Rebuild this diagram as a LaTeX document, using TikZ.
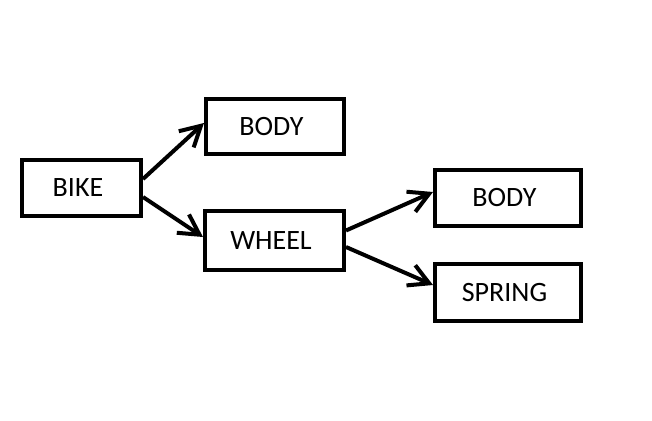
\documentclass[tikz,border=0pt]{standalone}
\usepackage{fontspec}
\setmainfont{Carlito}
\usetikzlibrary{arrows.meta}
\tikzset{
	part/.style={draw, line width=4pt, inner sep=0pt, font=\fontsize{28}{32}\selectfont, execute at end node={\kern7pt}},
	link/.style={line width=4pt, -{Straight Barb[length=20pt, width=22pt, line width=4pt]}}
}
\begin{document}
\begin{tikzpicture}[x=1pt, y=-1pt]
		\useasboundingbox (0, 0) rectangle (652, 420);
		\node[part, minimum width=119pt, minimum height=56pt] (bike) at (81.5, 188) {BIKE};
		\node[part, minimum width=138pt, minimum height=55pt] (body) at (275, 126.5) {BODY};
		\node[part, minimum width=139pt, minimum height=59pt] (wheel) at (274.5, 240.5) {WHEEL};
		\node[part, minimum width=146pt, minimum height=56pt] (wbody) at (508, 198) {BODY};
		\node[part, minimum width=146pt, minimum height=57pt] (spring) at (508, 292.5) {SPRING};
		
		\draw[link] ([yshift=9pt]bike.east) -- ([yshift=3.5pt]body.west);
		\draw[link] ([yshift=-9pt]bike.east) -- ([yshift=3.5pt]wheel.west);
		\draw[link] ([yshift=10pt]wheel.east) -- ([yshift=6pt]wbody.west);
		\draw[link] ([yshift=-6.5pt]wheel.east) -- ([yshift=7.5pt]spring.west);
	\end{tikzpicture}
\end{document}
